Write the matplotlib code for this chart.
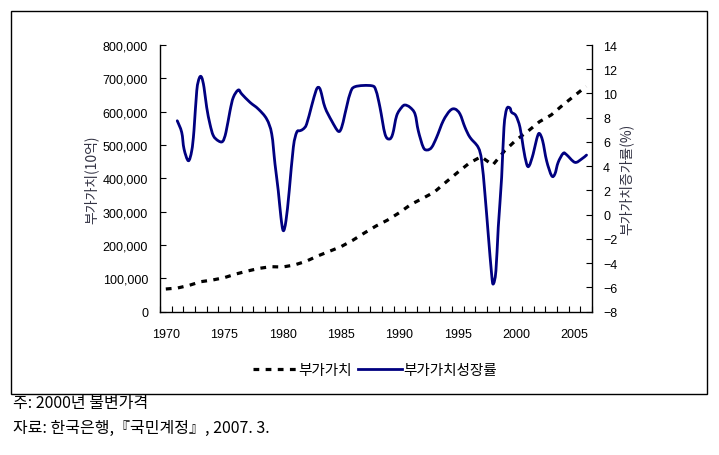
import matplotlib
matplotlib.use('Agg')
import matplotlib.pyplot as plt
import numpy as np
from matplotlib.patches import Rectangle, PathPatch
from matplotlib.path import Path
from matplotlib.lines import Line2D
from matplotlib.ticker import FixedLocator, FuncFormatter

plt.rcParams['font.family'] = ['Liberation Sans', 'Noto Sans CJK KR', 'DejaVu Sans']
KR = ['Noto Sans CJK KR', 'DejaVu Sans']

# 부가가치 (10억원, 2000년 불변가격), 연도별
years = list(range(1970, 2007))
value_added = [68000, 71000, 79000, 90000, 95000, 102000, 113000, 122000, 130000, 135000,
               134000, 140000, 151000, 167000, 181000, 195000, 214000, 236000, 257000, 275000,
               297000, 322000, 340000, 359000, 389000, 418000, 446000, 465000, 440000, 482000,
               515000, 541000, 570000, 590000, 620000, 648000, 676000]

# 부가가치성장률 (%), 그림에서 읽은 점 (시점, 값)
growth_t = [1970.98, 1971.36, 1971.56, 1971.93, 1972.22, 1972.41, 1972.65, 1972.87, 1973.07, 1973.27,
            1973.50, 1973.78, 1974.07, 1974.49, 1974.87, 1975.15, 1975.50, 1975.78, 1976.21, 1976.50,
            1977.21, 1977.92, 1978.64, 1979.07, 1979.35, 1979.63, 1979.86, 1980.06, 1980.29, 1980.57,
            1980.92, 1981.21, 1981.49, 1981.77, 1982.06, 1982.49, 1982.86, 1983.06, 1983.26, 1983.63,
            1984.20, 1984.77, 1985.06, 1985.34, 1985.77, 1986.20, 1987.63, 1988.00, 1988.34, 1988.77,
            1989.14, 1989.43, 1989.77, 1990.20, 1990.48, 1990.91, 1991.34, 1991.62, 1992.05, 1992.39,
            1992.77, 1993.19, 1993.76, 1994.33, 1994.76, 1995.19, 1995.62, 1996.05, 1996.75, 1997.05,
            1997.33, 1997.61, 1997.90, 1998.04, 1998.27, 1998.47, 1998.76, 1998.96, 1999.19, 1999.47,
            1999.61, 1999.98, 2000.33, 2000.61, 2000.90, 2001.12, 2001.46, 2001.76, 2001.98, 2002.27,
            2002.61, 2003.04, 2003.32, 2003.60, 2004.03, 2004.32, 2005.03, 2005.60, 2006.03]
growth_rate = [7.75, 6.80, 5.42, 4.45, 5.28, 6.93, 10.23, 11.28, 11.33, 10.51,
               8.86, 7.48, 6.52, 6.10, 6.05, 6.80, 8.58, 9.68, 10.29, 9.96,
               9.27, 8.72, 7.89, 6.66, 4.18, 1.98, -0.22, -1.32, -0.50, 1.98,
               5.56, 6.80, 6.93, 7.07, 7.48, 8.99, 10.23, 10.51, 10.23, 8.86,
               7.75, 6.88, 7.21, 8.31, 9.96, 10.56, 10.64, 10.23, 8.86, 6.66,
               6.24, 6.66, 8.17, 8.86, 9.05, 8.86, 8.31, 6.93, 5.56, 5.34,
               5.56, 6.38, 7.75, 8.58, 8.72, 8.31, 7.21, 6.38, 5.56, 4.45,
               1.71, -1.59, -4.89, -5.72, -4.62, -1.04, 3.08, 7.21, 8.72, 8.80,
               8.45, 8.17, 7.21, 5.56, 4.18, 4.04, 5.01, 6.24, 6.71, 6.10,
               4.45, 3.22, 3.36, 4.32, 5.06, 4.95, 4.32, 4.59, 4.92]

year_labels = [1970, 1975, 1980, 1985, 1990, 1995, 2000, 2005]


def smooth_path(xs, ys, k=1 / 6):
    # 엑셀 '완만한 선' 처럼 점들을 베지어 곡선으로 잇기
    p = np.column_stack([xs, ys])
    verts = [p[0]]
    codes = [Path.MOVETO]
    for i in range(len(p) - 1):
        p0 = p[i - 1] if i > 0 else p[i]
        p3 = p[i + 2] if i + 2 < len(p) else p[i + 1]
        c1 = p[i] + (p[i + 1] - p0) * k
        c2 = p[i + 1] - (p3 - p[i]) * k
        verts += [c1, c2, p[i + 1]]
        codes += [Path.CURVE4] * 3
    return Path(verts, codes)


fig = plt.figure(figsize=(7.19, 4.56), dpi=100)
ax = fig.add_axes([0.2225, 0.3143, 0.6009, 0.5848])
ax2 = ax.twinx()

navy = '#000080'
l1, = ax.plot(years, value_added, color='black', lw=2.3, linestyle=(0, (1.8, 2.0)))
ax2.add_patch(PathPatch(smooth_path(growth_t, growth_rate), fill=False, edgecolor=navy, lw=2.0,
                        joinstyle='round', capstyle='round'))
l2 = Line2D([], [], color=navy, lw=2.0)

ax.set_xlim(1969.5, 2006.5)
ax.set_ylim(0, 800000)
ax2.set_ylim(-8, 14)
ax.set_yticks(range(0, 800001, 100000))
ax.yaxis.set_major_formatter(FuncFormatter(lambda v, p: f'{int(v):,}'))
ax2.set_yticks(range(-8, 15, 2))

ax.xaxis.set_major_locator(FixedLocator(year_labels))
ax.xaxis.set_minor_locator(FixedLocator([1969.5 + k for k in range(38)]))
ax.tick_params(axis='x', which='major', length=0, pad=12, labelsize=9)
ax.tick_params(axis='x', which='minor', direction='in', length=4, width=0.8)
ax.tick_params(axis='y', direction='in', length=4.5, width=0.8, pad=8.5, labelsize=9)
ax2.tick_params(axis='y', direction='in', length=4.5, width=0.8, pad=8, labelsize=9)

for a in (ax, ax2):
    a.spines['top'].set_visible(False)
    for s in a.spines.values():
        s.set_linewidth(1.0)
ax2.spines['left'].set_visible(False)
ax2.spines['bottom'].set_visible(False)
ax.spines['right'].set_visible(False)

ax.set_ylabel('부가가치(10억)', family=KR, fontsize=10, color='#333344', labelpad=3)
ax2.set_ylabel('부가가치증가률(%)', family=KR, fontsize=10, color='#333344', rotation=90, labelpad=1)

fig.legend([l1, l2], ['부가가치', '부가가치성장률'], loc='center', bbox_to_anchor=(375 / 719, 1 - 371 / 456),
           ncol=2, frameon=False, prop={'family': KR, 'size': 10.5}, handlelength=3.0,
           handletextpad=0.1, columnspacing=0.4)

fig.patches.append(Rectangle((11 / 719, 1 - 395 / 456), 696 / 719, 383 / 456, transform=fig.transFigure,
                             fill=False, edgecolor='black', lw=1.0))

fig.text(13 / 719, 1 - 404 / 456, '주: 2000년 불변가격', family=KR, fontsize=11.5, va='center', ha='left')
fig.text(13 / 719, 1 - 428 / 456, '자료: 한국은행,『국민계정』, 2007. 3.', family=KR, fontsize=11.5,
         va='center', ha='left')

fig.savefig('out.png', dpi=100)
